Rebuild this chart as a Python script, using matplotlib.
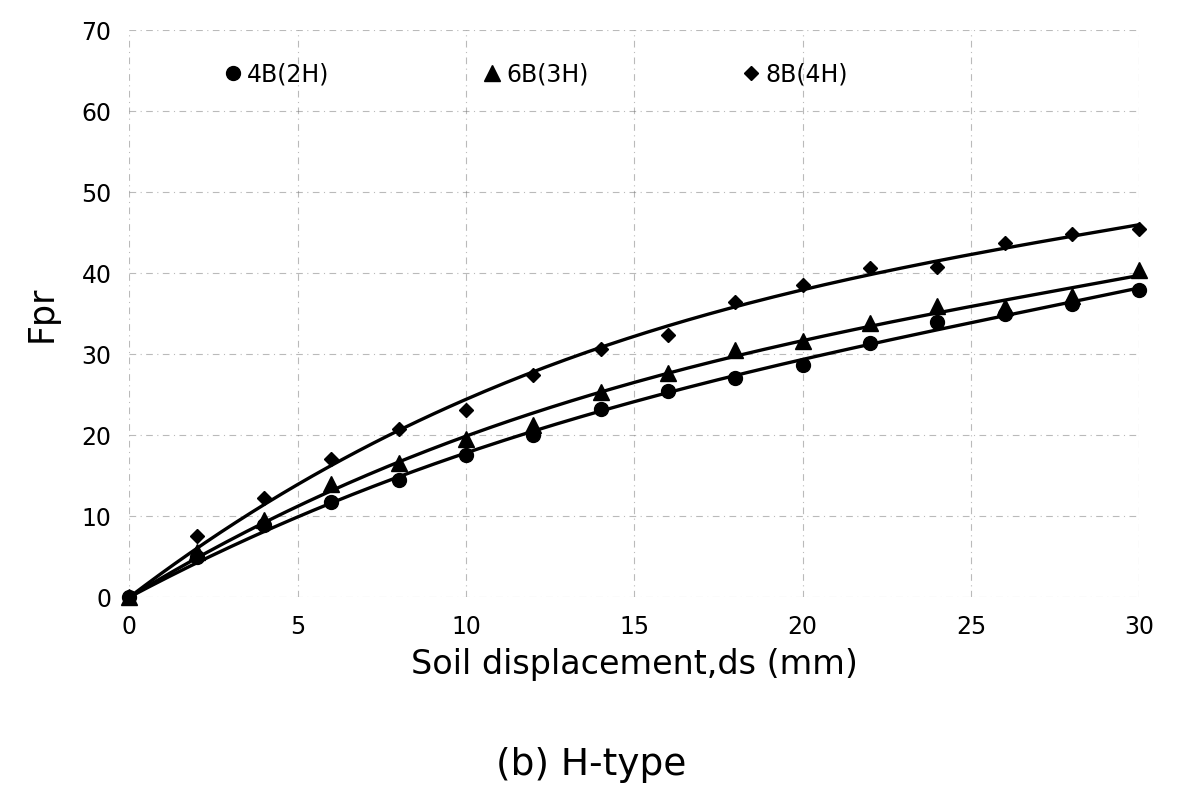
import numpy as np
import matplotlib
matplotlib.use('Agg')
import matplotlib.pyplot as plt

# datos (Fpr vs desplazamiento del suelo)
ds = [0, 2, 4, 6, 8, 10, 12, 14, 16, 18, 20, 22, 24, 26, 28, 30]
fpr_4b = [0, 5.0, 8.9, 11.8, 14.5, 17.6, 20.0, 23.2, 25.4, 27.0, 28.7, 31.4, 34.0, 35.0, 36.2, 37.9]
fpr_6b = [0, 5.6, 9.5, 14.0, 16.5, 19.5, 21.3, 25.3, 27.7, 30.5, 31.6, 33.9, 36.0, 35.8, 37.2, 40.4]
fpr_8b = [0, 7.6, 12.2, 17.1, 20.7, 23.1, 27.4, 30.6, 32.4, 36.4, 38.5, 40.6, 40.8, 43.7, 44.8, 45.4]
labels = ['4B(2H)', '6B(3H)', '8B(4H)']
xticks = [0, 5, 10, 15, 20, 25, 30]
yticks = [0, 10, 20, 30, 40, 50, 60, 70]

plt.rcParams['font.family'] = ['DejaVu Sans']

fig = plt.figure(figsize=(11.77, 7.93), dpi=100)
ax = fig.add_axes([0.110, 0.247, 0.858, 0.715])

series = [(fpr_4b, 'o', 10, labels[0]),
          (fpr_6b, '^', 11, labels[1]),
          (fpr_8b, 'D', 7.5, labels[2])]

x = np.array(ds, dtype=float)
xs = np.linspace(0, 30, 200)
# tendencia polinomica con interseccion en 0
A = np.column_stack([x, x**2, x**3])
As = np.column_stack([xs, xs**2, xs**3])
for y, mk, ms, lab in series:
    y = np.array(y)
    c = np.linalg.lstsq(A, y, rcond=None)[0]
    ax.plot(xs, As @ c, color='black', lw=2.4, clip_on=False)
    ax.plot(x, y, linestyle='none', marker=mk, ms=ms, color='black',
            label=lab, clip_on=False)

ax.set_xlim(0, 30)
ax.set_ylim(0, 70)
ax.set_xticks(xticks)
ax.set_yticks(yticks)
ax.tick_params(length=0, labelsize=17, pad=13)
for s in ax.spines.values():
    s.set_visible(False)
ax.grid(True, color='#777777', lw=0.8, linestyle=(0, (6, 4, 1, 4)), alpha=0.5)

ax.set_xlabel('Soil displacement,ds (mm)', fontsize=24, labelpad=6)
ax.set_ylabel('Fpr', fontsize=25, labelpad=16)

ax.legend(loc='upper left', bbox_to_anchor=(0.074, 0.98), ncol=3, frameon=False,
          fontsize=17, handlelength=0.6, handletextpad=0.3, columnspacing=6.6,
          markerscale=1.0)

fig.text(0.502, 0.035, '(b) H-type', fontsize=27, ha='center', va='center')

fig.savefig('out.png', dpi=100)
